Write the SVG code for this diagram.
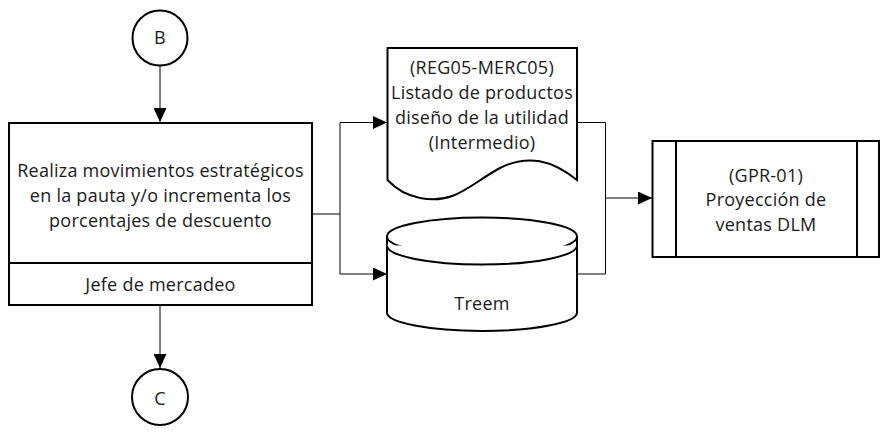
<svg xmlns="http://www.w3.org/2000/svg" width="885" height="437" viewBox="0 0 885 437">
<style>
.s{fill:#fff;stroke:#000;stroke-width:2}
.c{fill:none;stroke:#000;stroke-width:1}
text{font-family:"Open Sans","Liberation Sans",Arial,sans-serif;font-size:18px;letter-spacing:0.25px;fill:#1a1a1a;text-anchor:middle}
</style>
<defs>
<marker id="ah" markerWidth="14" markerHeight="13" refX="14" refY="6.5" orient="auto" markerUnits="userSpaceOnUse">
<path d="M0,0 L14,6.5 L0,13 Z" fill="#000"/>
</marker>
</defs>
<g id="connectors">
<path class="c" d="M160,66 V122" marker-end="url(#ah)"/>
<path class="c" d="M160,305 V368" marker-end="url(#ah)"/>
<path class="c" d="M312,214 H340 V122.5 H387" marker-end="url(#ah)"/>
<path class="c" d="M340,214 V274 H387" marker-end="url(#ah)"/>
<path class="c" d="M577,122.5 H605.5 V274 H577"/>
<path class="c" d="M605.5,198 H652" marker-end="url(#ah)"/>
</g>
<g id="nodeB">
<circle class="s" cx="160" cy="38" r="27.5"/>
<text x="160" y="44">B</text>
</g>
<g id="task">
<rect class="s" x="9" y="123" width="303" height="182"/>
<line class="s" x1="9" y1="263" x2="312" y2="263"/>
<text x="160.5" y="176.5">Realiza movimientos estratégicos</text>
<text x="160.5" y="201.5">en la pauta y/o incrementa los</text>
<text x="160.5" y="226.5">porcentajes de descuento</text>
<text x="160.5" y="290.5">Jefe de mercadeo</text>
</g>
<g id="nodeC">
<circle class="s" cx="160" cy="397" r="28"/>
<text x="160" y="404.5">C</text>
</g>
<g id="document">
<path class="s" d="M387.5,48 H577 V180 C552,160 528,154 500,168 C470,184 455,205 420,198 C405,195 395,188 387.5,180 Z"/>
<text x="482" y="74">(REG05-MERC05)</text>
<text x="482" y="99">Listado de productos</text>
<text x="482" y="124">diseño de la utilidad</text>
<text x="482" y="148.5">(Intermedio)</text>
</g>
<g id="database">
<path class="s" d="M387,236.5 V312.5 A95,18.5 0 0 0 577,312.5 V236.5"/>
<ellipse class="s" cx="482" cy="236.5" rx="95" ry="19"/>
<path class="s" d="M387,245.5 A95,19 0 0 0 577,245.5" fill="none"/>
<text x="482" y="310">Treem</text>
</g>
<g id="process">
<rect class="s" x="652.5" y="141" width="226.5" height="116"/>
<line class="s" x1="676" y1="141" x2="676" y2="257"/>
<line class="s" x1="857" y1="141" x2="857" y2="257"/>
<text x="766" y="182">(GPR-01)</text>
<text x="766" y="206">Proyección de</text>
<text x="766" y="230.5">ventas DLM</text>
</g>
</svg>
